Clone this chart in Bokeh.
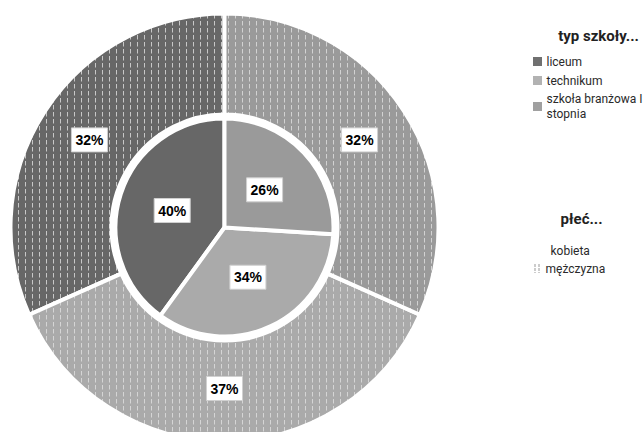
import numpy as np
from bokeh.plotting import figure
from bokeh.models import Range1d, ColumnDataSource
from bokeh.core.properties import value
from bokeh.embed import file_html
from bokeh.resources import INLINE

# ---- data ----
school_types = ["liceum", "technikum", "szkoła branżowa I\nstopnia"]
school_share = [40, 34, 26]          # inner pie (%)
male_share = [32, 37, 32]            # outer ring, mężczyzna (%)
school_colors = ["#676767", "#aaaaaa", "#9a9a9a"]
legend_colors = ["#707070", "#b2b2b2", "#a0a0a0"]
legend1_title = "typ szkoły..."
legend2_title = "płeć..."
gender_labels = ["kobieta", "mężczyzna"]

W, H = 644, 432
p = figure(width=W, height=H, output_backend="svg", toolbar_location=None,
           x_range=Range1d(0, W), y_range=Range1d(0, H), min_border=0)
p.axis.visible = False
p.grid.visible = False
p.outline_line_color = None
p.background_fill_color = "white"

cx, cy = 224, 205
R_in, R_ring0, R_out = 109, 113, 214

LABEL_FONT = value("Liberation Sans")
LEG_FONT = value("Roboto")


def angles(vals):
    v = np.array(vals, dtype=float)
    frac = v / v.sum() * 2 * np.pi
    start = np.pi / 2 + np.concatenate([[0], np.cumsum(frac)[:-1]])
    end = start + frac
    return start, end


s_in, e_in = angles(school_share)
s_out, e_out = angles(male_share)

outer = ColumnDataSource(dict(start=s_out, end=e_out, color=school_colors))
p.annular_wedge(x=cx, y=cy, inner_radius=R_ring0, outer_radius=R_out,
                start_angle="start", end_angle="end", source=outer,
                fill_color="color", line_color="white", line_width=4,
                hatch_pattern="vertical_dash", hatch_color="#e0e0e0",
                hatch_alpha=0.8, hatch_scale=7, hatch_weight=1)

inner = ColumnDataSource(dict(start=s_in, end=e_in, color=school_colors))
p.wedge(x=cx, y=cy, radius=R_in, start_angle="start", end_angle="end",
        source=inner, fill_color="color", line_color="white", line_width=4)

# labels
mid_in = (s_in + e_in) / 2
mid_out = (s_out + e_out) / 2
lab = ColumnDataSource(dict(
    x=np.concatenate([cx + 55 * np.cos(mid_in), cx + 161 * np.cos(mid_out)]),
    y=np.concatenate([cy + 55 * np.sin(mid_in), cy + 161 * np.sin(mid_out)]),
    t=[f"{v}%" for v in school_share] + [f"{v}%" for v in male_share]))
p.text(x="x", y="y", text="t", source=lab, text_align="center",
       text_baseline="middle", text_font=LABEL_FONT,
       text_font_style="bold", text_font_size="14px", text_color="black",
       background_fill_color="white", border_line_color="#d0d0d0",
       border_line_width=1, padding=4)

# legend 1
p.text(x=[598], y=[397], text=[legend1_title], text_align="center",
       text_baseline="middle", text_font=LEG_FONT,
       text_font_style="bold", text_font_size="15px", text_color="#222222")
ly = [371, 352, 326]
p.rect(x=[537] * 3, y=ly, width=9, height=9, fill_color=legend_colors,
       line_color=None)
p.text(x=[546] * 3, y=ly, text=school_types, text_align="left",
       text_baseline="middle", text_font=LEG_FONT,
       text_font_size="12px", text_color="#2a2a2a", text_line_height=1.05)

# legend 2
p.text(x=[581], y=[214], text=[legend2_title], text_align="center",
       text_baseline="middle", text_font=LEG_FONT,
       text_font_style="bold", text_font_size="15px", text_color="#222222")
p.rect(x=[537], y=[164], width=9, height=9, fill_color="white",
       line_color=None, hatch_pattern="vertical_dash", hatch_color="#999999",
       hatch_scale=4, hatch_weight=1)
p.text(x=[550, 545], y=[182, 164], text=gender_labels, text_align="left",
       text_baseline="middle", text_font=LEG_FONT,
       text_font_size="12px", text_color="#2a2a2a")

open("out.html", "w").write(file_html(p, INLINE))
